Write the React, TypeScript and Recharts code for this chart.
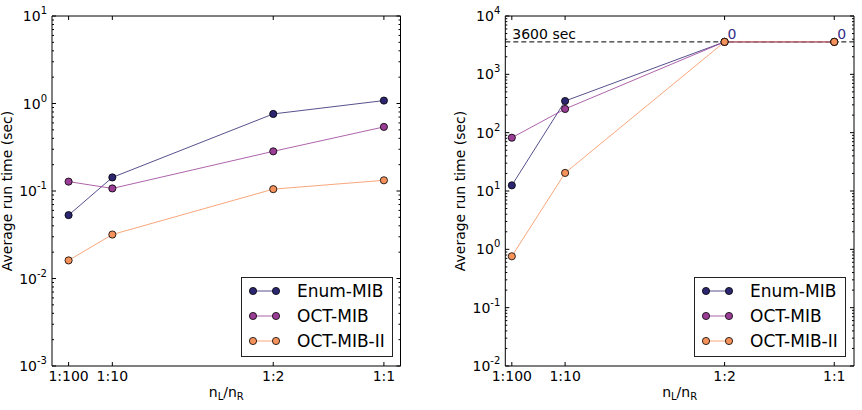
import React from "react";
import {
  LineChart,
  Line,
  XAxis,
  YAxis,
  Legend,
  ReferenceLine,
  LabelList,
  Label,
} from "recharts";

// ratio settings along the x axis
const ratioLabels = ["1:100", "1:10", "1:2", "1:1"];
const leftRatioX = [0.025, 0.0909, 0.3333, 0.5];
const rightRatioX = [0.0099, 0.0909, 0.3333, 0.5];

// average run time (sec), small instances
const enumSmall = [0.053, 0.143, 0.76, 1.08];
const octSmall = [0.128, 0.107, 0.284, 0.54];
const oct2Small = [0.0161, 0.0318, 0.105, 0.1325];

// average run time (sec), large instances (capped at the time limit)
const enumLarge = [12.5, 349, 3600, 3600];
const octLarge = [82, 255, 3600, 3600];
const oct2Large = [0.76, 20.4, 3600, 3600];

// instances finished by Enum-MIB within the limit
const enumFinished = [null, null, 0, 0];
const TIME_LIMIT = 3600;

const FONT = "'DejaVu Sans', sans-serif";

const SERIES = [
  { key: "enumMib", name: "Enum-MIB", color: "#2c2670" },
  { key: "octMib", name: "OCT-MIB", color: "#9a3d95" },
  { key: "octMib2", name: "OCT-MIB-II", color: "#f5915a" },
];

const leftRows = leftRatioX.map((x, i) => ({
  x,
  enumMib: enumSmall[i],
  octMib: octSmall[i],
  octMib2: oct2Small[i],
}));

const rightRows = rightRatioX.map((x, i) => ({
  x,
  enumMib: enumLarge[i],
  octMib: octLarge[i],
  octMib2: oct2Large[i],
  finished: enumFinished[i],
}));

function logTicks(lo: number, hi: number) {
  const out: number[] = [];
  for (let k = lo; k <= hi; k++) {
    out.push(Math.pow(10, k));
    if (k < hi) for (let m = 2; m <= 9; m++) out.push(m * Math.pow(10, k));
  }
  return out;
}

const isMajor = (v: number) => {
  const e = Math.log10(v);
  return Math.abs(e - Math.round(e)) < 1e-6;
};

const LeftYTick = (props: any) => {
  const { x, y, payload } = props;
  const v = payload.value;
  if (!isMajor(v)) {
    return <line x1={x} x2={x + 2} y1={y} y2={y} stroke="#000" />;
  }
  const exp = Math.round(Math.log10(v));
  return (
    <g>
      <line x1={x} x2={x + 4} y1={y} y2={y} stroke="#000" />
      <text
        x={x - 5}
        y={y + 5}
        textAnchor="end"
        fontFamily={FONT}
        fontSize={14}
        fill="#000"
      >
        10
        <tspan fontSize={10} dy={-7}>
          {exp < 0 ? `-${-exp}` : exp}
        </tspan>
      </text>
    </g>
  );
};

const RightYTick = (props: any) => {
  const { x, y, payload } = props;
  const len = isMajor(payload.value) ? 4 : 2;
  return <line x1={x} x2={x - len} y1={y} y2={y} stroke="#000" />;
};

const BottomXTick = (props: any) => {
  const { x, y, index } = props;
  return (
    <g>
      <line x1={x} x2={x} y1={y} y2={y - 4} stroke="#000" />
      <text
        x={x}
        y={y + 15}
        textAnchor="middle"
        fontFamily={FONT}
        fontSize={14}
        fill="#000"
      >
        {ratioLabels[index]}
      </text>
    </g>
  );
};

const TopXTick = (props: any) => {
  const { x, y } = props;
  return <line x1={x} x2={x} y1={y} y2={y + 4} stroke="#000" />;
};

const LegendBox = () => (
  <div
    style={{
      width: 150,
      height: 78,
      border: "1px solid #222",
      background: "#fff",
    }}
  >
    <svg width={150} height={78}>
      {SERIES.map((s, i) => {
        const cy = 13 + i * 25;
        return (
          <g key={s.key}>
            <line x1={11} x2={34} y1={cy} y2={cy} stroke={s.color} strokeOpacity={0.8} />
            <circle cx={11} cy={cy} r={3.6} fill={s.color} stroke="#000" strokeWidth={0.8} />
            <circle cx={34} cy={cy} r={3.6} fill={s.color} stroke="#000" strokeWidth={0.8} />
            <text x={55} y={cy + 6} fontFamily={FONT} fontSize={17} fill="#000">
              {s.name}
            </text>
          </g>
        );
      })}
    </svg>
  </div>
);

const yTitle = (props: any) => {
  const vb = props.viewBox;
  const cx = vb.x + vb.width - 45;
  const cy = vb.y + vb.height / 2;
  return (
    <text
      x={cx}
      y={cy}
      transform={`rotate(-90 ${cx} ${cy})`}
      textAnchor="middle"
      dominantBaseline="central"
      fontFamily={FONT}
      fontSize={14}
      fill="#000"
    >
      Average run time (sec)
    </text>
  );
};

const xTitle = (props: any) => {
  const vb = props.viewBox;
  return (
    <text
      x={vb.x + vb.width / 2}
      y={vb.y + 31}
      textAnchor="middle"
      fontFamily={FONT}
      fontSize={14}
      fill="#000"
    >
      n
      <tspan fontSize={10} dy={3}>L</tspan>
      <tspan dy={-3}>/n</tspan>
      <tspan fontSize={10} dy={3}>R</tspan>
    </text>
  );
};

function Panel({
  rows,
  width,
  yAxisWidth,
  rightMargin,
  xMax,
  yExp,
  legendLeft,
  withLimit,
}: {
  rows: any[];
  width: number;
  yAxisWidth: number;
  rightMargin: number;
  xMax: number;
  yExp: [number, number];
  legendLeft: number;
  withLimit?: boolean;
}) {
  const yTicks = logTicks(yExp[0], yExp[1]);
  const yDomain = [Math.pow(10, yExp[0]), Math.pow(10, yExp[1])];
  const xTicks = rows.map((r) => r.x);
  return (
    <LineChart
      width={width}
      height={410}
      data={rows}
      margin={{ top: 15, right: rightMargin - 1, bottom: 0, left: 0 }}
    >
      <XAxis
        dataKey="x"
        type="number"
        domain={[0, xMax]}
        allowDataOverflow
        ticks={xTicks}
        interval={0}
        height={44}
        tickSize={0}
        tickMargin={0}
        tickLine={false}
        axisLine={{ stroke: "#000" }}
        tick={<BottomXTick />}
      >
        <Label content={xTitle} />
      </XAxis>
      <XAxis
        xAxisId="top"
        orientation="top"
        dataKey="x"
        type="number"
        domain={[0, xMax]}
        allowDataOverflow
        ticks={xTicks}
        interval={0}
        height={1}
        tickSize={0}
        tickMargin={0}
        tickLine={false}
        axisLine={{ stroke: "#000" }}
        tick={<TopXTick />}
      />
      <YAxis
        scale="log"
        type="number"
        domain={yDomain}
        allowDataOverflow
        ticks={yTicks}
        interval={0}
        width={yAxisWidth}
        tickSize={0}
        tickMargin={0}
        tickLine={false}
        axisLine={{ stroke: "#000" }}
        tick={<LeftYTick />}
      >
        <Label content={yTitle} />
      </YAxis>
      <YAxis
        yAxisId="right"
        orientation="right"
        scale="log"
        type="number"
        domain={yDomain}
        allowDataOverflow
        ticks={yTicks}
        interval={0}
        width={1}
        tickSize={0}
        tickMargin={0}
        tickLine={false}
        axisLine={{ stroke: "#000" }}
        tick={<RightYTick />}
      />
      {/* unstroked series that ties the mirrored frame axes into the chart */}
      <Line
        xAxisId="top"
        yAxisId="right"
        dataKey="enumMib"
        stroke="none"
        dot={false}
        activeDot={false}
        legendType="none"
        isAnimationActive={false}
      />
      {withLimit && (
        <ReferenceLine
          y={TIME_LIMIT}
          stroke="#000"
          strokeDasharray="5 3"
          label={(p: any) => (
            <text
              x={p.viewBox.x + 7}
              y={p.viewBox.y - 3}
              fontFamily={FONT}
              fontSize={14}
              fill="#000"
            >
              3600 sec
            </text>
          )}
        />
      )}
      {SERIES.map((s) => (
        <Line
          key={s.key}
          dataKey={s.key}
          name={s.name}
          type="linear"
          stroke={s.color}
          strokeOpacity={0.8}
          strokeWidth={1}
          dot={{
            r: 3.6,
            fill: s.color,
            stroke: "#000",
            strokeWidth: 0.8,
            strokeOpacity: 1,
            fillOpacity: 1,
          }}
          isAnimationActive={false}
        >
          {withLimit && s.key === "enumMib" && (
            <LabelList
              dataKey="finished"
              content={(p: any) => {
                if (p.value === null || p.value === undefined) return null;
                const px = p.x ?? p.viewBox?.x;
                const py = p.y ?? p.viewBox?.y;
                return (
                  <text
                    x={px + 3}
                    y={py - 3}
                    fontFamily={FONT}
                    fontSize={14}
                    fill="#332d85"
                  >
                    {p.value}
                  </text>
                );
              }}
            />
          )}
        </Line>
      ))}
      <Legend
        layout="vertical"
        align="center"
        verticalAlign="middle"
        wrapperStyle={{ left: legendLeft, top: 276.7 }}
        content={() => <LegendBox />}
      />
    </LineChart>
  );
}

export default function App() {
  return (
    <div
      style={{
        position: "absolute",
        left: 0,
        top: 0,
        width: 862,
        height: 410,
        background: "#fff",
        display: "flex",
      }}
    >
      <Panel
        rows={leftRows}
        width={431}
        yAxisWidth={52}
        rightMargin={30.5}
        xMax={0.525}
        yExp={[-3, 1]}
        legendLeft={240.7}
      />
      <Panel
        rows={rightRows}
        width={431}
        yAxisWidth={74.3}
        rightMargin={8}
        xMax={0.53}
        yExp={[-2, 4]}
        legendLeft={263.3}
        withLimit
      />
    </div>
  );
}
